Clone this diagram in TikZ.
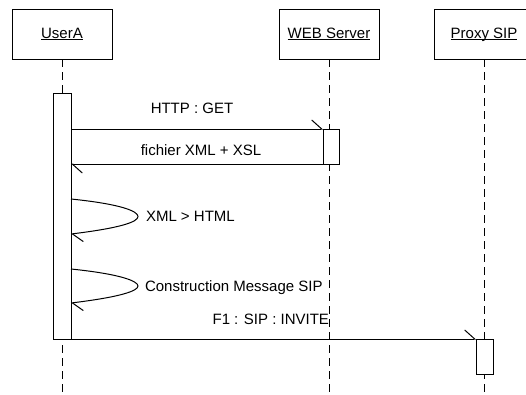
\documentclass[tikz,border=0pt]{standalone}
\usepackage{fontspec}
\setmainfont{Liberation Sans}
\newcommand{\ultext}[1]{\setbox0\hbox{#1}\rlap{\rule[-1.6pt]{\wd0}{0.9pt}}\box0}
\usetikzlibrary{arrows.meta, positioning}
\tikzset{
	actornode/.style={
			draw=black,
			line width=1pt,
			fill=white,
			anchor=north,
			inner sep=0pt,
			outer sep=0pt,
			minimum width=100pt,
			text height=29.5pt,
			text depth=20.5pt
		},
	activationnode/.style={
			draw=black,
			line width=1pt,
			fill=white,
			anchor=north,
			inner sep=0pt,
			outer sep=0pt,
			minimum width=17pt
		},
	lifeline/.style={
			draw=black,
			line width=1pt,
			dash pattern=on 8pt off 5pt
		},
	msgline/.style={
			draw=black,
			line width=1pt,
			-{Straight Barb[left, length=10pt, width=18pt, line width=1pt]}
		},
	msglabel/.style={
			inner sep=0pt,
			outer sep=0pt
		}
}

\begin{document}
\begin{tikzpicture}[x=1pt, y=-1pt, font=\fontsize{15}{18}\selectfont]
\useasboundingbox (0,0) rectangle (526,394);
\clip (0,0) rectangle (526,394);

\node[actornode] (userA) at (62,9) {\ultext{UserA}};
\node[actornode] (webSrv) at (329,9) {\ultext{WEB Server}};
\node[actornode] (proxySIP) at (484,9) {\ultext{Proxy SIP}};

\coordinate (userAEnd) at (62,394);
\coordinate (webSrvEnd) at (329,394);
\coordinate (proxySIPEnd) at (484,394);

\draw[lifeline] (userA.south) -- (userAEnd);
\draw[lifeline] (webSrv.south) -- (webSrvEnd);
\draw[lifeline] (proxySIP.south) -- (proxySIPEnd);

\node[activationnode, minimum width=18pt, minimum height=246pt] (actUserA) at (62,93) {};
\node[activationnode, minimum width=16pt, minimum height=35pt] (actWeb) at (331,129) {};
\node[activationnode, minimum height=35pt] (actProxy) at (484.5,339) {};

\coordinate (xmlStart) at (71,199);
\coordinate (xmlEnd) at (71,234);
\coordinate (sipStart) at (71,269);
\coordinate (sipEnd) at (71,303);

\draw[msgline] (actUserA.east |- actWeb.north) -- (actWeb.north west);
\draw[msgline] (actWeb.south west) -- (actUserA.east |- actWeb.south);
\draw[msgline] (xmlStart) .. controls (120,204) and (138,211) .. (138,216.5)
  .. controls (138,222) and (120,228) .. (xmlEnd);
\draw[msgline] (sipStart) .. controls (120,274) and (138,281) .. (138,286)
  .. controls (138,291) and (120,297) .. (sipEnd);
\draw[msgline] (actUserA.south west) -- (actProxy.north west);

\node[msglabel, anchor=base] (lblGet) at (192,113) {HTTP : GET};
\node[msglabel, anchor=base] (lblXsl) at (201,155) {fichier XML + XSL};
\node[msglabel, anchor=base west] (lblHtml) at (146,221) {XML > HTML};
\node[msglabel, anchor=base west] (lblBuild) at (145,291) {Construction Message SIP};
\node[msglabel, anchor=base east] (lblInvite) at (329,324) {F1 : SIP : INVITE};

\end{tikzpicture}
\end{document}
